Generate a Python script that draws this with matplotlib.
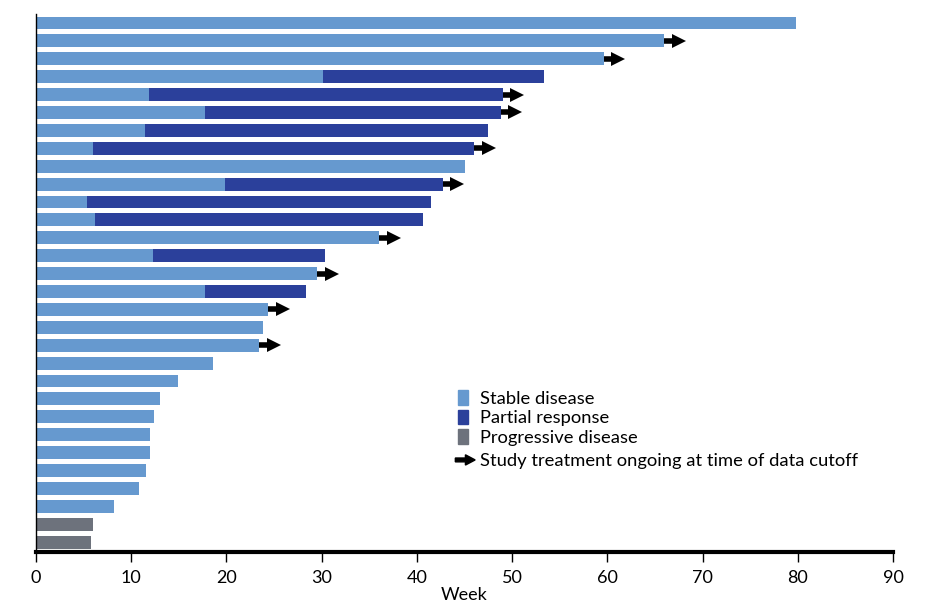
import matplotlib
matplotlib.use("Agg")
import matplotlib.pyplot as plt
from matplotlib.patches import Patch, FancyArrow
from matplotlib.legend_handler import HandlerPatch
import numpy as np

# weeks on study per patient, top to bottom
stable_end = [79.8, 66.0, 59.6, 30.1, 11.9, 17.7, 11.4, 6.0, 45.0, 19.9,
              5.4, 6.2, 36.0, 12.3, 29.5, 17.7, 24.4, 23.8, 23.4, 18.6,
              14.9, 13.0, 12.4, 12.0, 12.0, 11.5, 10.8, 8.2, 0, 0]
partial_end = [0, 0, 0, 53.4, 49.0, 48.8, 47.5, 46.0, 0, 42.7,
               41.5, 40.6, 0, 30.4, 0, 28.4, 0, 0, 0, 0,
               0, 0, 0, 0, 0, 0, 0, 0, 0, 0]
progressive_end = [0] * 28 + [6.0, 5.8]
ongoing = [0, 1, 1, 0, 1, 1, 0, 1, 0, 1,
           0, 0, 1, 0, 1, 0, 1, 0, 1, 0,
           0, 0, 0, 0, 0, 0, 0, 0, 0, 0]

c_stable = "#6699cf"
c_partial = "#2b409b"
c_prog = "#6d727c"

plt.rcParams['font.family'] = ['Lato', 'DejaVu Sans']

fig = plt.figure(figsize=(9.36, 6.08), dpi=100)
ax = fig.add_axes([36/936, 1-552/608, 857/936, 538/608])

y = np.arange(len(stable_end))
h = 0.72
stable_end = np.array(stable_end)
partial_end = np.array(partial_end)
progressive_end = np.array(progressive_end)

ax.barh(y, stable_end, height=h, color=c_stable, edgecolor="none")
has_pr = partial_end > 0
ax.barh(y[has_pr], partial_end[has_pr] - stable_end[has_pr], left=stable_end[has_pr],
        height=h, color=c_partial, edgecolor="none")
ax.barh(y, progressive_end, height=h, color=c_prog, edgecolor="none")

total = np.maximum(np.maximum(stable_end, partial_end), progressive_end)
for i in range(len(total)):
    if ongoing[i]:
        x0 = total[i]
        ax.plot([x0, x0 + 1.4], [y[i], y[i]], color="black", lw=4,
                solid_capstyle="butt")
        ax.plot(x0 + 1.55, y[i], marker=">", color="black", ms=9.5,
                markeredgewidth=0)

ax.set_xlim(0, 90)
ax.set_ylim(len(total) - 0.45, -0.5)
ax.set_yticks([])
ax.set_xticks(range(0, 91, 10))
ax.spines['top'].set_visible(False)
ax.spines['right'].set_visible(False)
ax.spines['left'].set_linewidth(1.0)
ax.spines['bottom'].set_linewidth(3.0)
ax.tick_params(axis='x', length=7, width=1.0, pad=6, labelsize=13)
ax.set_xlabel("Week", fontsize=13, labelpad=1)


class ArrowHandler(HandlerPatch):
    def create_artists(self, legend, orig_handle, xdescent, ydescent,
                       width, height, fontsize, trans):
        a = FancyArrow(-xdescent - 2, height / 2 - ydescent, width + 7, 0,
                       width=height * 0.3, head_width=height * 0.8,
                       head_length=7, length_includes_head=True,
                       color="black", transform=trans)
        return [a]


handles = [Patch(color=c_stable), Patch(color=c_partial), Patch(color=c_prog)]
labels = ["Stable disease", "Partial response", "Progressive disease"]
leg = ax.legend(handles, labels, loc="upper left", bbox_to_anchor=(0.484, 0.314),
                frameon=False, fontsize=13.2, handlelength=0.55, handleheight=0.85,
                handletextpad=0.65, labelspacing=0.15, borderaxespad=0)
ax.add_artist(leg)

arrow_h = Patch(color="black")
leg2 = ax.legend([arrow_h], ["Study treatment ongoing at time of data cutoff"],
                 loc="upper left", bbox_to_anchor=(0.484, 0.197),
                 frameon=False, fontsize=13.2, handlelength=0.55,
                 handletextpad=0.65, borderaxespad=0,
                 handler_map={arrow_h: ArrowHandler()})

fig.savefig("out.png", dpi=100)
